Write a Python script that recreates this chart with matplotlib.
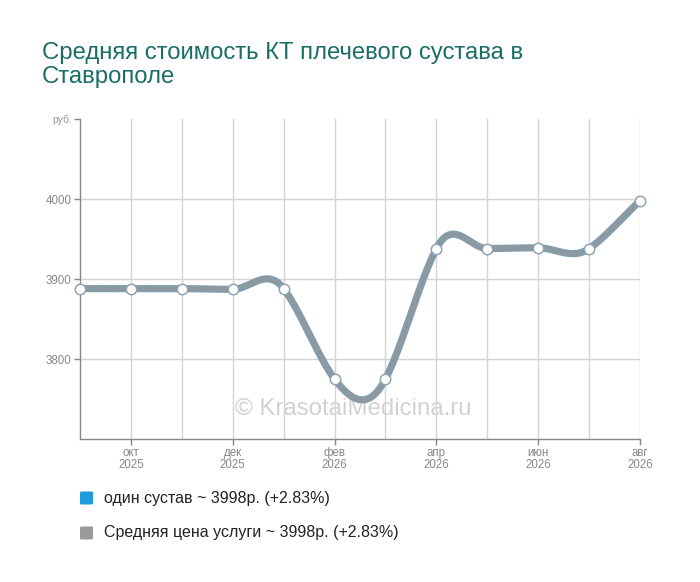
import numpy as np
import matplotlib
matplotlib.use('Agg')
import matplotlib.pyplot as plt
from matplotlib.patches import FancyBboxPatch

plt.rcParams['font.family'] = ['Liberation Sans', 'DejaVu Sans']

# ---- data ----
months = ['сен', 'окт', 'ноя', 'дек', 'янв', 'фев', 'мар', 'апр', 'май', 'июн', 'июл', 'авг']
years = ['2025', '2025', '2025', '2025', '2026', '2026', '2026', '2026', '2026', '2026', '2026', '2026']
joint_prices = [3888, 3888, 3888, 3887, 3888, 3775, 3775, 3938, 3938, 3939, 3938, 3998]
avg_prices = [3888, 3888, 3888, 3887, 3888, 3775, 3775, 3938, 3938, 3939, 3938, 3998]
labeled_idx = [1, 3, 5, 7, 9, 11]
yticks = [3800, 3900, 4000]
legend_labels = ['один сустав ~ 3998р. (+2.83%)', 'Средняя цена услуги ~ 3998р. (+2.83%)']
title = 'Средняя стоимость КТ плечевого сустава в\nСтаврополе'


def smooth(y, k=1.5, n=40):
    y = np.asarray(y, float)
    N = len(y)
    m = np.zeros(N)
    m[1:-1] = k * (y[2:] - y[:-2]) / 2
    m[0] = y[1] - y[0]
    m[-1] = y[-1] - y[-2]
    xs, ys = [], []
    for i in range(N - 1):
        t = np.linspace(0, 1, n, endpoint=(i == N - 2))
        h00 = 2 * t**3 - 3 * t**2 + 1
        h10 = t**3 - 2 * t**2 + t
        h01 = -2 * t**3 + 3 * t**2
        h11 = t**3 - t**2
        ys.append(h00 * y[i] + h10 * m[i] + h01 * y[i + 1] + h11 * m[i + 1])
        xs.append(i + t)
    return np.concatenate(xs), np.concatenate(ys)


W, H = 700, 582
fig = plt.figure(figsize=(W / 100, H / 100), dpi=100)
ax = fig.add_axes([80 / W, 1 - 439 / H, 560 / W, 320 / H])

x = np.arange(len(months))
ax.set_xlim(0, len(months) - 1)
ax.set_ylim(3700, 4100)

grid_c = '#d4d4d4'
for xi in x[1:]:
    ax.axvline(xi, color=grid_c, lw=1, zorder=1)
for yv in yticks:
    ax.axhline(yv, color=grid_c, lw=1, zorder=1)

sx, sy = smooth(joint_prices)
ax.plot(sx, sy, color='#7fa2b8', lw=5.2, solid_capstyle='round', zorder=3)
sx2, sy2 = smooth(avg_prices)
ax.plot(sx2, sy2, color='#8c989f', lw=4.0, alpha=0.85, solid_capstyle='round', zorder=4)
ax.plot(x, avg_prices, linestyle='none', marker='o', markersize=7.5,
        markerfacecolor='white', markeredgecolor='#8fa3b1', markeredgewidth=1.1,
        zorder=5, clip_on=False)

for s in ['top', 'right']:
    ax.spines[s].set_visible(False)
for s in ['left', 'bottom']:
    ax.spines[s].set_color('#888888')
    ax.spines[s].set_linewidth(1)

ax.set_yticks(yticks + [4100])
ax.set_yticklabels([str(v) for v in yticks] + ['руб.'])
ax.tick_params(axis='y', length=4, width=1, color='#888888', labelcolor='#888888',
               labelsize=8.3, pad=2)
ax.get_yticklabels()[-1].set_color('#999999')
ax.get_yticklabels()[-1].set_fontsize(7.5)
ax.set_xticks(labeled_idx)
ax.set_xticklabels([f'{months[i]}\n{years[i]}' for i in labeled_idx], linespacing=1.0)
ax.tick_params(axis='x', length=4, width=1, color='#888888', labelcolor='#888888',
               labelsize=8.3, pad=2)

ax.text(0.488, 0.095, '© KrasotaiMedicina.ru', transform=ax.transAxes, ha='center',
        va='center', fontsize=17.3, color='#d2d2d2', zorder=2)

fig.text(42 / W, 1 - 42 / H, title, ha='left', va='top', fontsize=17.2,
         color='#1a6e66', linespacing=1.1)

leg_colors = ['#1d9ce0', '#999999']
leg_y = [498, 533]
for c, yy, lab in zip(leg_colors, leg_y, legend_labels):
    fig.patches.append(FancyBboxPatch(((80) / W, 1 - (yy + 6.5) / H), 13 / W, 13 / H,
                                      boxstyle='round,pad=0,rounding_size=0.002',
                                      transform=fig.transFigure, facecolor=c,
                                      edgecolor='none'))
    fig.text(104 / W, 1 - yy / H, lab, ha='left', va='center', fontsize=11.5,
             color='#222222')

fig.savefig('out.png', dpi=100)
